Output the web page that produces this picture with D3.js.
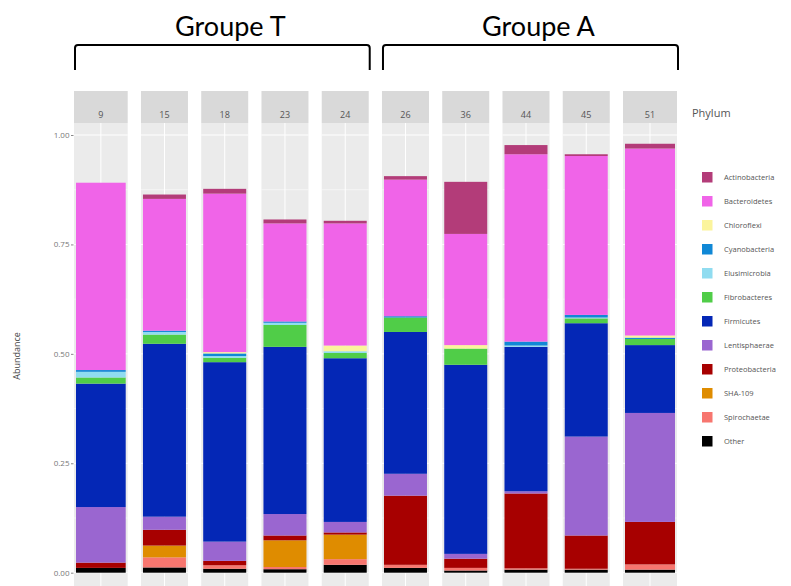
<!DOCTYPE html>
<html>
<head>
<meta charset="utf-8">
<script src="https://cdn.jsdelivr.net/npm/d3@7"></script>
<style>
	body { margin: 0; background: #fff; }
	svg { display: block; }
</style>
</head>
<body>
<svg id="chart" width="791" height="586"></svg>
<script>
"use strict"

//
// Data
//
var samples = ["9", "15", "18", "23", "24", "26", "36", "44", "45", "51"];
var groupT = ["9", "15", "18", "23", "24"];
var groupA = ["26", "36", "44", "45", "51"];

var phyla = ["Actinobacteria", "Bacteroidetes", "Chloroflexi", "Cyanobacteria", "Elusimicrobia",
	"Fibrobacteres", "Firmicutes", "Lentisphaerae", "Proteobacteria", "SHA-109", "Spirochaetae", "Other"];
var phylumColors = ["#b33c79", "#f064e8", "#fbf49c", "#1088d6", "#90dcf0",
	"#50cd48", "#0427b6", "#9a66d0", "#a70000", "#df8c00", "#f7766f", "#000000"];

var Actinobacteria = [0.000, 0.010, 0.011, 0.009, 0.006, 0.008, 0.119, 0.021, 0.004, 0.011];
var Bacteroidetes  = [0.428, 0.301, 0.362, 0.224, 0.279, 0.312, 0.254, 0.428, 0.363, 0.427];
var Chloroflexi    = [0.000, 0.000, 0.003, 0.000, 0.013, 0.000, 0.008, 0.000, 0.000, 0.005];
var Cyanobacteria  = [0.004, 0.003, 0.006, 0.003, 0.000, 0.003, 0.000, 0.009, 0.006, 0.003];
var Elusimicrobia  = [0.013, 0.006, 0.004, 0.005, 0.004, 0.000, 0.000, 0.003, 0.002, 0.000];
var Fibrobacteres  = [0.014, 0.021, 0.010, 0.050, 0.012, 0.033, 0.037, 0.000, 0.011, 0.014];
var Firmicutes     = [0.282, 0.395, 0.410, 0.382, 0.374, 0.324, 0.432, 0.330, 0.259, 0.155];
var Lentisphaerae  = [0.127, 0.030, 0.044, 0.049, 0.024, 0.050, 0.011, 0.005, 0.226, 0.249];
var Proteobacteria = [0.012, 0.036, 0.010, 0.011, 0.005, 0.158, 0.021, 0.171, 0.076, 0.097];
var SHA109         = [0.000, 0.027, 0.000, 0.061, 0.056, 0.000, 0.000, 0.000, 0.000, 0.000];
var Spirochaetae   = [0.000, 0.023, 0.008, 0.005, 0.013, 0.007, 0.006, 0.003, 0.002, 0.012];
var Other          = [0.011, 0.012, 0.009, 0.008, 0.018, 0.011, 0.005, 0.007, 0.007, 0.007];

var yTicks = [0, 0.25, 0.5, 0.75, 1];
var yMinor = [0.125, 0.375, 0.625, 0.875];

var series = [Actinobacteria, Bacteroidetes, Chloroflexi, Cyanobacteria, Elusimicrobia,
	Fibrobacteres, Firmicutes, Lentisphaerae, Proteobacteria, SHA109, Spirochaetae, Other];

//
// Table for d3.stack: one row per sample
//
var rows = samples.map(function(s, i) {
	var r = {sample: s};
	phyla.forEach(function(p, j) { r[p] = series[j][i]; });
	return r;
});
// ggplot stacks the first level on top, so stack in reverse order
var stacked = d3.stack().keys(phyla.slice().reverse())(rows);

var FONT = "'Open Sans', 'Noto Sans', sans-serif";
var PANEL_TOP = 123;
var STRIP_TOP = 91;
var PANEL_BOTTOM = 586;

var svg = d3.select("#chart");

var x = d3.scaleBand().domain(samples).range([80.7, 670]).paddingInner(0.22);
var y = d3.scaleLinear().domain([0, 1]).range([572.7, 135]);
var color = d3.scaleOrdinal().domain(phyla).range(phylumColors);

// first and last panels are a bit wider in the picture
function panelX(s) {
	var i = samples.indexOf(s);
	return x(s) - (i == 0 ? 6.7 : 0);
}
function panelW(s) {
	var i = samples.indexOf(s);
	return x.bandwidth() + (i == 0 ? 6.7 : 0) + (i == samples.length - 1 ? 7 : 0);
}

//
// Panels, strips, grid
//
var panels = svg.append("g").selectAll("g").data(samples).enter().append("g");

panels.append("rect")
	.attr("x", function(d) { return panelX(d); })
	.attr("y", PANEL_TOP)
	.attr("width", function(d) { return panelW(d); })
	.attr("height", PANEL_BOTTOM - PANEL_TOP)
	.attr("fill", "#ebebeb");

panels.append("rect")
	.attr("x", function(d) { return panelX(d); })
	.attr("y", STRIP_TOP)
	.attr("width", function(d) { return panelW(d); })
	.attr("height", PANEL_TOP - STRIP_TOP)
	.attr("fill", "#d9d9d9");

panels.append("text")
	.attr("x", function(d) { return panelX(d) + panelW(d) / 2; })
	.attr("y", 118)
	.attr("text-anchor", "middle")
	.attr("font-family", FONT)
	.attr("font-size", 9)
	.attr("fill", "#555")
	.text(function(d) { return d; });

panels.each(function(s) {
	var g = d3.select(this);
	var x0 = panelX(s), w = panelW(s);
	yMinor.forEach(function(v) {
		g.append("line").attr("x1", x0).attr("x2", x0 + w)
			.attr("y1", y(v)).attr("y2", y(v))
			.attr("stroke", "#fff").attr("stroke-width", 0.5);
	});
	yTicks.forEach(function(v) {
		g.append("line").attr("x1", x0).attr("x2", x0 + w)
			.attr("y1", y(v)).attr("y2", y(v))
			.attr("stroke", "#fff").attr("stroke-width", 1);
	});
	g.append("line").attr("x1", x0 + w / 2).attr("x2", x0 + w / 2)
		.attr("y1", PANEL_TOP).attr("y2", PANEL_BOTTOM)
		.attr("stroke", "#fff").attr("stroke-width", 1);
});

//
// Stacked bars
//
svg.append("g").selectAll("g").data(stacked).enter().append("g")
	.attr("fill", function(d) { return color(d.key); })
	.selectAll("rect").data(function(d) { return d; }).enter().append("rect")
	.attr("x", function(d) { return panelX(d.data.sample) + 2; })
	.attr("width", function(d) { return panelW(d.data.sample) - 4; })
	.attr("y", function(d) { return y(d[1]); })
	.attr("height", function(d) { return Math.max(0, y(d[0]) - y(d[1])); });

//
// Y axis
//
var yAxis = d3.axisLeft(y).tickValues(yTicks).tickFormat(d3.format(".2f")).tickSize(2.5).tickPadding(1.5);
var gy = svg.append("g").attr("transform", "translate(" + (panelX(samples[0]) - 0.5) + ",0)").call(yAxis);
gy.select(".domain").remove();
gy.selectAll(".tick line").attr("stroke", "#888");
gy.selectAll(".tick text").attr("font-family", FONT).attr("font-size", 8).attr("fill", "#777");

svg.append("text")
	.attr("transform", "translate(20,356) rotate(-90)")
	.attr("text-anchor", "middle")
	.attr("font-family", FONT)
	.attr("font-size", 9)
	.attr("fill", "#444")
	.text("Abundance");

//
// Legend
//
svg.append("text")
	.attr("x", 692).attr("y", 117)
	.attr("font-family", FONT)
	.attr("font-size", 11)
	.attr("fill", "#555")
	.text("Phylum");

var legend = svg.append("g").selectAll("g").data(phyla).enter().append("g")
	.attr("transform", function(d, i) { return "translate(702," + (172 + i * 24) + ")"; });
legend.append("rect")
	.attr("width", 10.5).attr("height", 10.5)
	.attr("fill", function(d) { return color(d); });
legend.append("text")
	.attr("x", 22).attr("y", 5.3)
	.attr("dy", "0.35em")
	.attr("font-family", FONT)
	.attr("font-size", 7.5)
	.attr("fill", "#555")
	.text(function(d) { return d; });

//
// Group brackets
//
function drawGroup(list, label) {
	var first = list[0], last = list[list.length - 1];
	var x0 = panelX(first) + 1, x1 = panelX(last) + panelW(last) + 1;
	svg.append("path")
		.attr("d", "M" + x0 + ",70 L" + x0 + ",48 Q" + x0 + ",45 " + (x0 + 3) + ",45 L" + (x1 - 3) + ",45 Q" + x1 + ",45 " + x1 + ",48 L" + x1 + ",70")
		.attr("fill", "none")
		.attr("stroke", "#000")
		.attr("stroke-width", 2);
	svg.append("text")
		.attr("x", (x0 + x1) / 2 + 8).attr("y", 36)
		.attr("text-anchor", "middle")
		.attr("font-family", "Lato, 'Open Sans', sans-serif")
		.attr("font-size", 27)
		.attr("fill", "#000")
		.text(label);
}
drawGroup(groupT, "Groupe T");
drawGroup(groupA, "Groupe A");
</script>
</body>
</html>
